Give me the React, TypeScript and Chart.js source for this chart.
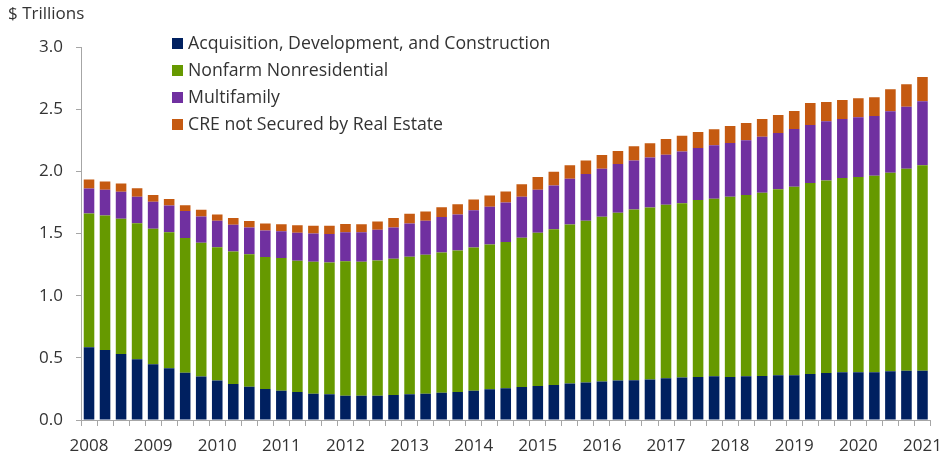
import React, { useEffect, useRef } from 'react';
import { Chart, registerables } from 'chart.js';

Chart.register(...registerables);

const years = [2008, 2009, 2010, 2011, 2012, 2013, 2014, 2015, 2016, 2017, 2018, 2019, 2020, 2021];
const quarters = ['Q1', 'Q2', 'Q3', 'Q4'];
const categories = years.flatMap((y) => quarters.map((q) => `${y} ${q}`)).slice(0, 53);

const seriesLabels = [
  'Acquisition, Development, and Construction',
  'Nonfarm Nonresidential',
  'Multifamily',
  'CRE not Secured by Real Estate',
];
const seriesColors = ['#002060', '#669900', '#7030A0', '#C55A11'];

// $ trillions, quarterly 2008 Q1 - 2021 Q1
const adc = [
  0.585, 0.564, 0.531, 0.488, 0.448, 0.416, 0.381, 0.349, 0.317, 0.290, 0.268, 0.250, 0.236, 0.225,
  0.212, 0.207, 0.196, 0.196, 0.196, 0.201, 0.207, 0.212, 0.220, 0.225, 0.236, 0.247, 0.255, 0.266,
  0.274, 0.282, 0.293, 0.301, 0.309, 0.317, 0.319, 0.326, 0.335, 0.341, 0.346, 0.352, 0.346, 0.352,
  0.354, 0.360, 0.360, 0.370, 0.378, 0.384, 0.384, 0.384, 0.392, 0.397, 0.397,
];
const nonfarm = [
  1.076, 1.081, 1.087, 1.095, 1.090, 1.095, 1.082, 1.076, 1.073, 1.065, 1.066, 1.060, 1.066, 1.055,
  1.060, 1.060, 1.081, 1.076, 1.087, 1.095, 1.105, 1.117, 1.127, 1.138, 1.152, 1.165, 1.176, 1.199,
  1.232, 1.253, 1.280, 1.301, 1.325, 1.350, 1.375, 1.383, 1.396, 1.403, 1.423, 1.427, 1.449, 1.457,
  1.474, 1.495, 1.516, 1.536, 1.549, 1.562, 1.570, 1.581, 1.597, 1.624, 1.651,
];
const multifamily = [
  0.201, 0.207, 0.218, 0.212, 0.217, 0.215, 0.217, 0.212, 0.212, 0.215, 0.215, 0.214, 0.217, 0.226,
  0.228, 0.228, 0.233, 0.239, 0.247, 0.253, 0.269, 0.273, 0.285, 0.290, 0.300, 0.303, 0.319, 0.330,
  0.346, 0.352, 0.367, 0.376, 0.387, 0.392, 0.394, 0.403, 0.403, 0.416, 0.418, 0.430, 0.433, 0.440,
  0.451, 0.453, 0.464, 0.467, 0.475, 0.475, 0.480, 0.480, 0.494, 0.499, 0.515,
];
const creNotSecured = [
  0.073, 0.067, 0.067, 0.068, 0.054, 0.051, 0.048, 0.054, 0.051, 0.054, 0.051, 0.057, 0.056, 0.061,
  0.062, 0.067, 0.067, 0.064, 0.067, 0.075, 0.078, 0.075, 0.080, 0.083, 0.086, 0.091, 0.088, 0.102,
  0.102, 0.110, 0.108, 0.110, 0.110, 0.104, 0.113, 0.114, 0.126, 0.127, 0.129, 0.129, 0.136, 0.140,
  0.142, 0.145, 0.145, 0.177, 0.156, 0.153, 0.153, 0.150, 0.177, 0.180, 0.196,
];
const seriesValues = [adc, nonfarm, multifamily, creNotSecured];

const yMin = 0;
const yMax = 3;
const yStep = 0.5;
const yAxisTitle = '$ Trillions';

const FONT = '"Open Sans", "Noto Sans", sans-serif';
const TEXT = '#333333';
const AXIS = '#A6A6A6';

const overlayPlugin = {
  id: 'overlayText',
  afterDraw(chart: any) {
    const ctx = chart.ctx;
    const area = chart.chartArea;
    ctx.save();
    ctx.font = `17px ${FONT}`;
    ctx.textBaseline = 'middle';
    ctx.textAlign = 'left';
    ctx.fillStyle = TEXT;
    ctx.fillText(yAxisTitle, 8, 14);
    ctx.font = `17.7px ${FONT}`;
    chart.data.datasets.forEach((ds: any, i: number) => {
      const y = area.top - 3.5 + i * 27;
      const x = area.left + 91;
      ctx.fillStyle = ds.backgroundColor;
      ctx.fillRect(x, y - 5.5, 11, 11);
      ctx.fillStyle = TEXT;
      ctx.fillText(ds.label, x + 16, y);
    });
    ctx.restore();
  },
};

export default function App() {
  const ref = useRef<HTMLCanvasElement | null>(null);

  useEffect(() => {
    if (!ref.current) return;
    const chart = new Chart(ref.current, {
      type: 'bar',
      data: {
        labels: categories,
        datasets: seriesValues.map((vals, i) => ({
          label: seriesLabels[i],
          data: vals,
          backgroundColor: seriesColors[i],
          borderWidth: 0,
          barPercentage: 0.66,
          categoryPercentage: 1,
        })),
      },
      options: {
        animation: false,
        responsive: false,
        maintainAspectRatio: false,
        layout: { padding: { top: 47, right: 10, left: 0, bottom: 0 } },
        plugins: {
          legend: { display: false },
          tooltip: { enabled: false },
          title: { display: false },
        },
        scales: {
          x: {
            stacked: true,
            grid: { drawOnChartArea: false, offset: true, tickLength: 6, color: AXIS },
            border: { color: AXIS, width: 1 },
            ticks: {
              autoSkip: false,
              maxRotation: 0,
              minRotation: 0,
              padding: 10,
              color: TEXT,
              font: { family: FONT, size: 17 },
              callback: (_v: any, i: number) => (i % 4 === 0 ? categories[i].slice(0, 4) : ''),
            },
            afterFit: (s: any) => {
              s.height = 38;
            },
          },
          y: {
            stacked: true,
            min: yMin,
            max: yMax,
            grid: { drawOnChartArea: false, tickLength: 5, color: AXIS },
            border: { color: AXIS, width: 1 },
            ticks: {
              stepSize: yStep,
              padding: 13,
              color: TEXT,
              font: { family: FONT, size: 17 },
              callback: (v: any) => Number(v).toFixed(1),
            },
            afterFit: (s: any) => {
              s.width = 81;
            },
          },
        },
      },
      plugins: [overlayPlugin],
    });
    return () => chart.destroy();
  }, []);

  return (
    <div style={{ position: 'absolute', left: 0, top: 0, width: 952, height: 458, background: '#fff' }}>
      <canvas ref={ref} width={952} height={458} style={{ display: 'block' }} />
    </div>
  );
}
